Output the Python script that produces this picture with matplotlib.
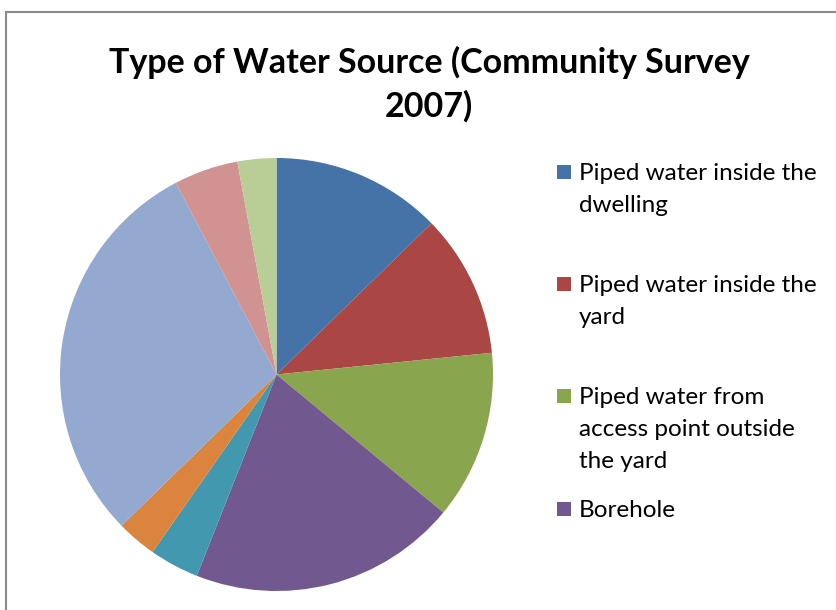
import matplotlib.pyplot as plt
from matplotlib.patches import Rectangle

# water source shares (percent), clockwise from 12 o'clock
shares = [12.7, 10.7, 12.6, 20.0, 3.7, 3.0, 29.6, 4.8, 2.9]
colors = ['#4572A7', '#AA4643', '#89A54E', '#71588F', '#4198AF',
          '#DB843D', '#93A9CF', '#D19392', '#B9CD96']
legend_labels = ['Piped water inside the\ndwelling',
                 'Piped water inside the\nyard',
                 'Piped water from\naccess point outside\nthe yard',
                 'Borehole']
title = 'Type of Water Source (Community Survey\n2007)'

W, H = 837, 610
fig = plt.figure(figsize=(W / 100, H / 100), dpi=100)
fig.patch.set_facecolor('white')

# chart area border (runs off the right and bottom)
fig.patches.append(Rectangle((6 / W, -0.05), 1.1, (H - 12) / H + 0.05,
                             transform=fig.transFigure, fill=False,
                             edgecolor='#8a8a8a', linewidth=1.5))

cx, cy, r = 276.5, 374.5, 216.5
ax = fig.add_axes([(cx - r) / W, (H - cy - r) / H, 2 * r / W, 2 * r / H])
ax.pie(shares, colors=colors, startangle=90, counterclock=False,
       wedgeprops=dict(linewidth=0))
ax.set_xlim(-1, 1)
ax.set_ylim(-1, 1)
ax.set_aspect('equal')
ax.axis('off')

# baseline alignment of multiline text goes by the last line
fig.text(429 / W, 1 - 117 / H, title, ha='center', va='baseline',
         fontsize=24.5, fontweight='bold', family='Lato', linespacing=1.44)

# legend, only the first four entries fit
line_h = 32
baselines = [180, 292, 404, 517]
for lab, col, y in zip(legend_labels, colors, baselines):
    fig.patches.append(Rectangle((557 / W, 1 - (y - 1) / H), 14 / W, 14 / H,
                                 transform=fig.transFigure, facecolor=col,
                                 edgecolor='none'))
    last = y + line_h * lab.count('\n')
    fig.text(579 / W, 1 - last / H, lab, ha='left', va='baseline',
             fontsize=17.5, family='Lato', linespacing=1.64)

fig.savefig('out.png', dpi=100)
